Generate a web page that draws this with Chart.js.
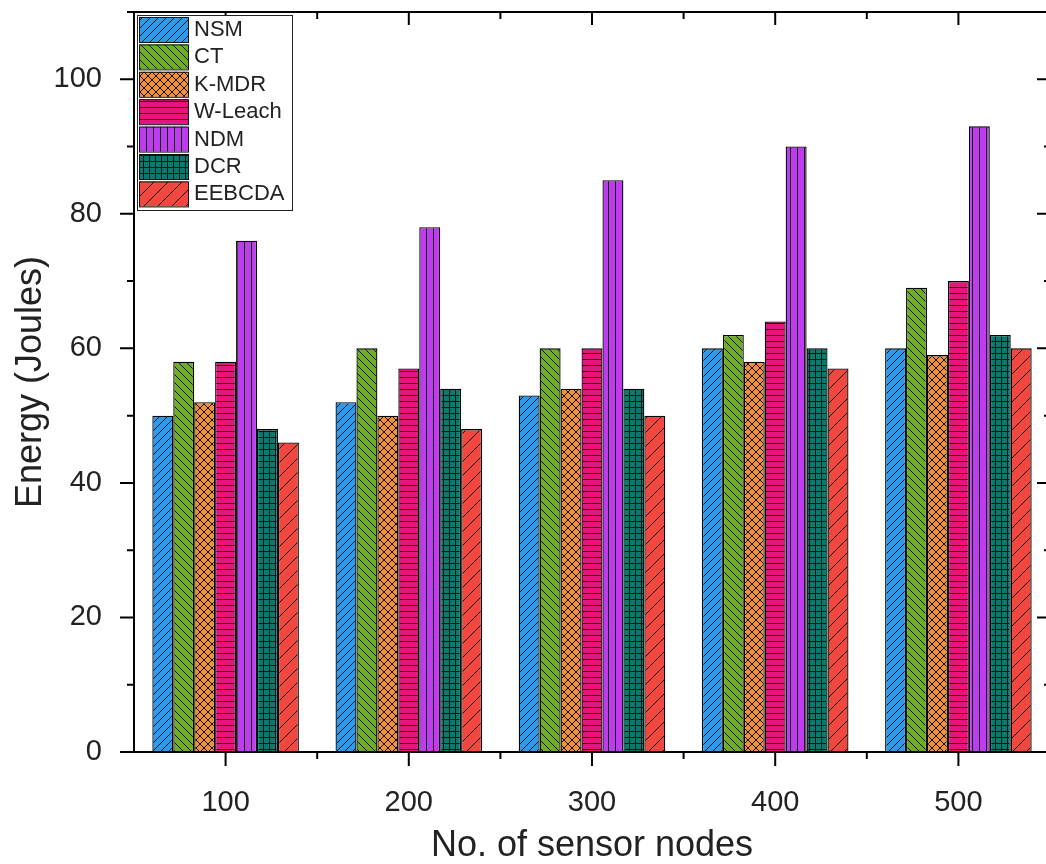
<!DOCTYPE html>
<html>
<head>
<meta charset="utf-8">
<script src="https://cdn.jsdelivr.net/npm/chart.js@4.4.1/dist/chart.umd.min.js"></script>
<style>
    html, body { margin: 0; padding: 0; background: #fff; overflow: hidden; }
    #wrap { width: 1060px; height: 864px; }
</style>
</head>
<body>
<div id="wrap"><canvas id="myChart" width="1060" height="864"></canvas></div>
<script>
// values
var nodeCounts = ['100', '200', '300', '400', '500'];
var nsm     = [50, 52, 53, 60, 60];
var ct      = [58, 60, 60, 62, 69];
var kmdr    = [52, 50, 54, 58, 59];
var wleach  = [58, 57, 60, 64, 70];
var ndm     = [76, 78, 85, 90, 93];
var dcr     = [48, 54, 54, 60, 62];
var eebcda  = [46, 48, 50, 57, 60];

var FONT = '"Liberation Sans", Arial, sans-serif';
var INK = '#111';

// hatch patterns like the origin plot
function makePattern(bg, kind) {
    var s = 8;
    if (kind == 'sparse') s = 14;
    if (kind == 'horiz' || kind == 'grid') s = 6;
    if (kind == 'vert') s = 7;
    var c = document.createElement('canvas');
    c.width = s; c.height = s;
    var g = c.getContext('2d');
    g.fillStyle = bg;
    g.fillRect(0, 0, s, s);
    g.strokeStyle = INK;
    g.lineWidth = 1;
    g.beginPath();
    if (kind == 'fwd' || kind == 'sparse' || kind == 'cross') {
        for (var i = -s; i <= s; i += s) { g.moveTo(i, s); g.lineTo(i + s, 0); }
    }
    if (kind == 'back' || kind == 'cross') {
        for (var j = -s; j <= s; j += s) { g.moveTo(j, 0); g.lineTo(j + s, s); }
    }
    if (kind == 'horiz' || kind == 'grid') { g.moveTo(0, s - 0.5); g.lineTo(s, s - 0.5); }
    if (kind == 'vert' || kind == 'grid') { g.moveTo(s - 0.5, 0); g.lineTo(s - 0.5, s); }
    g.stroke();
    return g.createPattern(c, 'repeat');
}

function series(label, data, color, kind) {
    return {
        label: label,
        data: data,
        backgroundColor: makePattern(color, kind),
        borderColor: '#000',
        borderWidth: 1.3,
        categoryPercentage: 0.8,
        barPercentage: 1.0
    };
}

// frame, inward/outward ticks and the boxed legend
var framePlugin = {
    id: 'originFrame',
    afterDatasetsDraw: function(chart) {
        var ctx = chart.ctx, a = chart.chartArea;
        var xs = chart.scales.x, ys = chart.scales.y;
        ctx.save();
        ctx.strokeStyle = '#000';
        ctx.lineWidth = 2;
        ctx.strokeRect(a.left, a.top, a.right - a.left, a.bottom - a.top);

        ctx.beginPath();
        // y ticks every 10, major every 20
        for (var v = 0; v <= 110; v += 10) {
            var py = ys.getPixelForValue(v);
            var len = (v % 20 == 0) ? 14 : 7;
            ctx.moveTo(a.left - len, py); ctx.lineTo(a.left, py);
            ctx.moveTo(a.right, py); ctx.lineTo(a.right - len + 1, py);
        }
        // x ticks: major at category centres, minor between them
        for (var i = 0; i < nodeCounts.length; i++) {
            var px = xs.getPixelForTick(i);
            ctx.moveTo(px, a.bottom); ctx.lineTo(px, a.bottom + 14);
            ctx.moveTo(px, a.top); ctx.lineTo(px, a.top + 13);
            if (i > 0) {
                var mx = (px + xs.getPixelForTick(i - 1)) / 2;
                ctx.moveTo(mx, a.bottom); ctx.lineTo(mx, a.bottom + 7);
                ctx.moveTo(mx, a.top); ctx.lineTo(mx, a.top + 7);
            }
        }
        ctx.stroke();

        // legend box
        var lx = 137, ly = 15, lw = 155, lh = 195, pitch = 27.4;
        ctx.fillStyle = '#fff';
        ctx.fillRect(lx, ly, lw, lh);
        ctx.lineWidth = 1;
        ctx.strokeStyle = '#222';
        ctx.strokeRect(lx + 0.5, ly + 0.5, lw, lh);
        ctx.font = '22px ' + FONT;
        ctx.textBaseline = 'middle';
        ctx.textAlign = 'left';
        chart.data.datasets.forEach(function(ds, k) {
            var ry = ly + 2 + k * pitch;
            ctx.fillStyle = ds.backgroundColor;
            ctx.fillRect(lx + 2, ry, 49, 25);
            ctx.strokeStyle = INK;
            ctx.strokeRect(lx + 2.5, ry + 0.5, 49, 25);
            ctx.fillStyle = '#222';
            ctx.fillText(ds.label, lx + 57, ry + 13);
        });
        ctx.restore();
    }
};

var ctx = document.getElementById('myChart');
var myChart = new Chart(ctx, {
    type: 'bar',
    data: {
        labels: nodeCounts,
        datasets: [
            series('NSM', nsm, '#2c9bef', 'fwd'),
            series('CT', ct, '#6fae22', 'back'),
            series('K-MDR', kmdr, '#f0913a', 'cross'),
            series('W-Leach', wleach, '#e4157e', 'horiz'),
            series('NDM', ndm, '#be3bee', 'vert'),
            series('DCR', dcr, '#0a7a70', 'grid'),
            series('EEBCDA', eebcda, '#f2473f', 'sparse')
        ]
    },
    options: {
        responsive: false,
        animation: false,
        layout: { padding: { left: 0, top: 12, right: 10, bottom: 0 } },
        plugins: {
            legend: { display: false },
            tooltip: { enabled: false }
        },
        scales: {
            x: {
                type: 'category',
                offset: true,
                grid: { display: false },
                border: { display: false },
                ticks: { color: '#222', padding: 26, font: { family: FONT, size: 29 } },
                title: {
                    display: true,
                    text: 'No. of sensor nodes',
                    color: '#222',
                    padding: 0,
                    font: { family: FONT, size: 36, lineHeight: 1 }
                },
                afterFit: function(scale) {
                    scale.height = 112;
                    scale.paddingLeft = 0;
                    scale.paddingRight = 0;
                }
            },
            y: {
                min: 0,
                max: 110,
                grid: { display: false },
                border: { display: false },
                ticks: {
                    stepSize: 20,
                    color: '#222',
                    padding: 24,
                    font: { family: FONT, size: 29 },
                    callback: function(v) { return v % 20 == 0 ? v : ''; }
                },
                title: {
                    display: true,
                    text: 'Energy (Joules)',
                    color: '#222',
                    padding: { top: 13, bottom: 0 },
                    font: { family: FONT, size: 36, lineHeight: 1 }
                },
                afterFit: function(scale) {
                    scale.width = 134;
                    scale.paddingTop = 0;
                    scale.paddingBottom = 0;
                }
            }
        }
    },
    plugins: [framePlugin]
});
</script>
</body>
</html>
